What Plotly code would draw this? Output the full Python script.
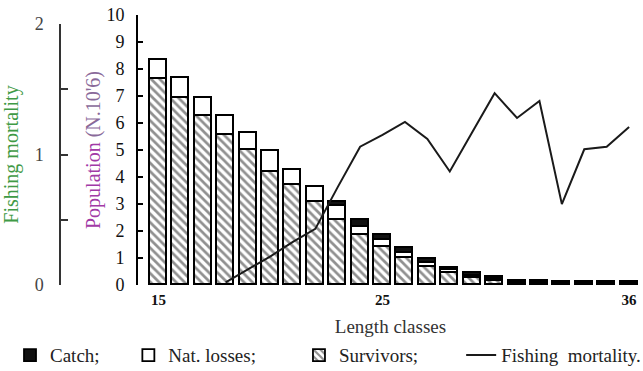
import plotly.graph_objects as go

classes = list(range(15, 37))
catch = [0, 0, 0, 0, 0, 0, 0, 0, 0.15, 0.25, 0.18, 0.18, 0.15, 0.08, 0.08, 0.07,
         0.06, 0.06, 0.05, 0.05, 0.05, 0.05]
nat_losses = [0.70, 0.74, 0.67, 0.70, 0.63, 0.77, 0.56, 0.56, 0.51, 0.30, 0.26, 0.19, 0.14, 0.11, 0.10, 0.08,
              0.03, 0.03, 0.03, 0.03, 0.03, 0.03]
survivors = [7.63, 6.93, 6.26, 5.56, 5.00, 4.19, 3.70, 3.07, 2.41, 1.86, 1.41, 1.00, 0.67, 0.44, 0.25, 0.15,
             0.05, 0.05, 0.04, 0.04, 0.04, 0.04]
fishing_mortality = [None, None, None, 0.02, 0.12, 0.22, 0.33, 0.43, 0.75, 1.06, 1.15, 1.25, 1.12, 0.87,
                     1.17, 1.47, 1.28, 1.41, 0.62, 1.04, 1.06, 1.21]
x_ticks = [15, 25, 36]
pop_ticks = list(range(0, 11))
fm_ticks = [0, 0.5, 1, 1.5, 2]
fm_labels = ["0", "", "1", "", "2"]

SERIF = "Liberation Serif"
W, H = 643, 371
bar_w = 0.76
outline = dict(color="black", width=1.8)

def pad(n):
    return "&nbsp;" * n

fig = go.Figure()
fig.add_trace(go.Bar(x=classes, y=survivors, name="Survivors;" + pad(8), width=bar_w,
                     marker=dict(color="white", line=outline,
                                 pattern=dict(shape="\\", fgcolor="#222", bgcolor="white",
                                              size=6, solidity=0.45)),
                     legendrank=3))
fig.add_trace(go.Bar(x=classes, y=nat_losses, name="Nat. losses;" + pad(8), width=bar_w,
                     marker=dict(color="white", line=outline), legendrank=2))
fig.add_trace(go.Bar(x=classes, y=catch, name="Catch;" + pad(5), width=bar_w,
                     marker=dict(color="#111", line=outline), legendrank=1))
fig.add_trace(go.Scatter(x=classes, y=fishing_mortality, yaxis="y2", mode="lines",
                         name="Fishing&nbsp;&nbsp;mortality.", line=dict(color="#1a1a1a", width=2),
                         connectgaps=False, legendrank=4))

fig.update_layout(
    width=W, height=H, barmode="stack", bargap=0,
    margin=dict(l=0, r=0, t=15, b=86, autoexpand=False),
    paper_bgcolor="white", plot_bgcolor="rgba(0,0,0,0)",
    font=dict(family=SERIF, color="#222"),
    xaxis=dict(domain=[138 / W, 1], range=[14.09, 36.62], anchor="y",
               tickvals=x_ticks, ticktext=["<b>%d</b>" % v for v in x_ticks],
               tickfont=dict(size=15, color="#111"), showgrid=False, zeroline=False,
               showline=False, ticks="", ticklabelstandoff=4,
               title=dict(text="Length classes", font=dict(size=19, color="#333"), standoff=12)),
    yaxis=dict(domain=[0, 1], range=[0, 10], anchor="x", tickvals=pop_ticks,
               showline=True, linewidth=2, linecolor="black", ticks="inside", ticklen=5,
               tickwidth=2, tickcolor="black", showgrid=False, zeroline=False,
               tickfont=dict(size=18, color="#111"), ticklabelstandoff=8,
               title=dict(text="<span style='color:#a23aa6'>Population</span> "
                               "<span style='color:#8a6a9a'>(N.10'6)</span>",
                          font=dict(size=20), standoff=0)),
    yaxis2=dict(domain=[0, 261 / 270], range=[0, 2], anchor="free", position=60 / W,
                side="left", tickvals=fm_ticks, ticktext=fm_labels,
                showline=True, linewidth=1.5, linecolor="#333", ticks="inside", ticklen=7,
                tickwidth=1.5, tickcolor="#333", showgrid=False, zeroline=False,
                tickfont=dict(size=18, color="#444"), ticklabelstandoff=12,
                title=dict(text="Fishing mortality", font=dict(size=20, color="#3f9a45"),
                           standoff=10)),
    legend=dict(orientation="h", x=10 / W, xanchor="left", y=-0.26, yanchor="middle",
                font=dict(size=19, color="#222", family=SERIF), traceorder="normal",
                itemwidth=30, bgcolor="rgba(0,0,0,0)"),
    showlegend=True,
)

fig.write_html("out.html", config={"displayModeBar": False},
               post_script="document.body.style.margin='0';")
